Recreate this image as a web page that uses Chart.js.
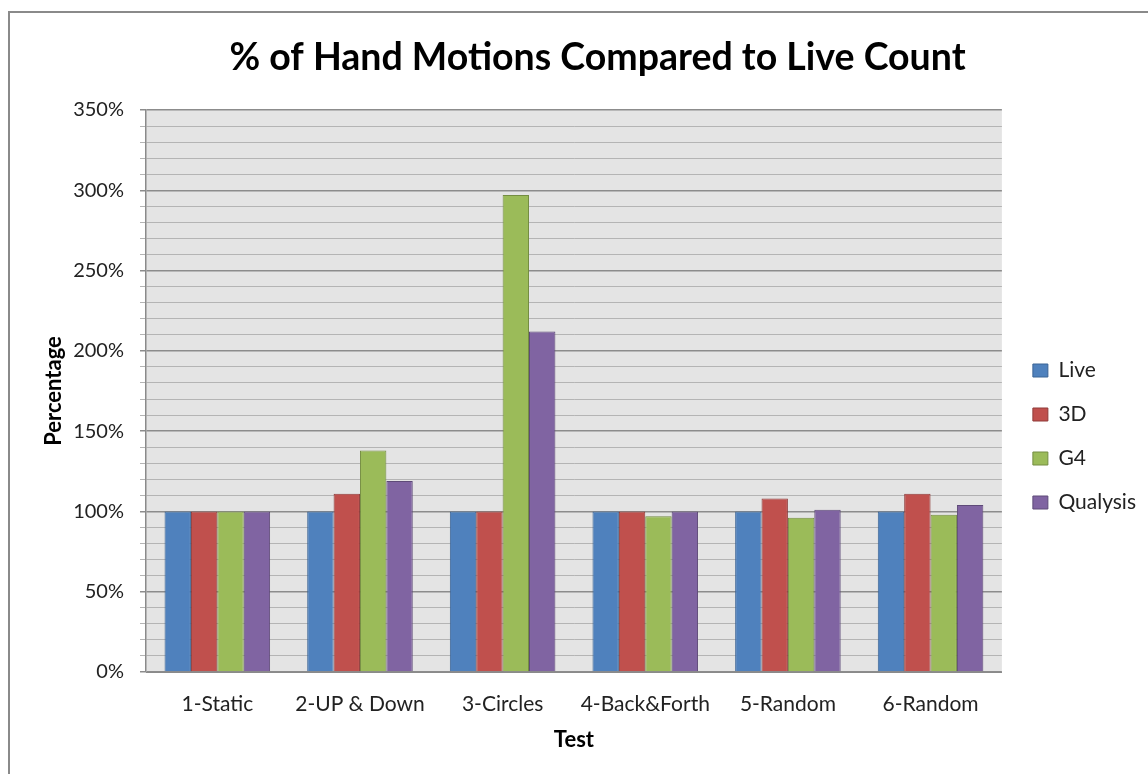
<!DOCTYPE html>
<html>
<head>
<meta charset="utf-8">
<title>% of Hand Motions Compared to Live Count</title>
<script src="https://cdn.jsdelivr.net/npm/chart.js@4/dist/chart.umd.min.js"></script>
<style>
  html, body { margin: 0; padding: 0; background: #ffffff; }
  #wrap { position: relative; width: 1148px; height: 774px; overflow: hidden; }
  #frame {
    position: absolute; left: 8px; top: 11px; width: 1200px; height: 800px;
    border-left: 2px solid #8a8a8a; border-top: 2px solid #8a8a8a; box-sizing: border-box;
  }
  canvas { position: absolute; left: 0; top: 0; }
</style>
</head>
<body>
<div id="wrap">
  <div id="frame"></div>
  <canvas id="chart" width="1148" height="774"></canvas>
</div>
<script>
// Test categories along the x axis
const tests = ['1-Static', '2-UP & Down', '3-Circles', '4-Back&Forth', '5-Random', '6-Random'];

// Hand-motion counts as a percentage of the live count
const live     = [100, 100, 100, 100, 100, 100];
const threeD   = [100, 111, 100, 100, 108, 111];
const g4       = [100, 138, 297, 97, 96, 98];
const qualysis = [100, 119, 212, 100, 101, 104];

// Y axis: 0–350 %, labelled every 50 %, minor grid every 10 %
const yMin = 0;
const yMax = 350;
const yStep = 10;
const yLabelEvery = 50;

const FONT = 'Lato, "Open Sans", "DejaVu Sans", sans-serif';

// Grey plot background behind the bars
const plotBackground = {
  id: 'plotBackground',
  beforeDraw(chart) {
    const { ctx, chartArea: a } = chart;
    ctx.save();
    ctx.fillStyle = '#e4e4e4';
    ctx.fillRect(a.left, a.top, a.right - a.left, a.bottom - a.top);
    ctx.restore();
  }
};

// Small offsets: title centred a little right, legend set a little away from the plot
const nudgeBoxes = {
  id: 'nudgeBoxes',
  afterLayout(chart) {
    const t = chart.titleBlock;
    if (t) { t.left += 10; t.right += 10; }
    const l = chart.legend;
    if (l) { l.left += 8; l.right += 8; }
  }
};

new Chart(document.getElementById('chart'), {
  type: 'bar',
  data: {
    labels: tests,
    datasets: [
      { label: 'Live',     data: live,     backgroundColor: '#4f81bd', borderColor: '#3b6496' },
      { label: '3D',       data: threeD,   backgroundColor: '#c0504d', borderColor: '#8f3b39' },
      { label: 'G4',       data: g4,       backgroundColor: '#9bbb59', borderColor: '#748d42' },
      { label: 'Qualysis', data: qualysis, backgroundColor: '#8064a2', borderColor: '#5e4a78' }
    ]
  },
  plugins: [plotBackground, nudgeBoxes],
  options: {
    responsive: false,
    animation: false,
    devicePixelRatio: 1,
    layout: { padding: { left: 37, right: 10, top: 0, bottom: 17 } },
    datasets: {
      bar: {
        borderWidth: 1,
        categoryPercentage: 0.74,
        barPercentage: 1.0
      }
    },
    plugins: {
      title: {
        display: true,
        text: '% of Hand Motions Compared to Live Count',
        color: '#000000',
        font: { family: FONT, size: 37.5, weight: 'bold' },
        padding: { top: 35, bottom: 30 }
      },
      legend: {
        position: 'right',
        title: {
          display: true,
          text: ' ',
          font: { family: FONT, size: 10 },
          padding: { top: 104, bottom: 0 }
        },
        labels: {
          color: '#222222',
          font: { family: FONT, size: 21 },
          boxWidth: 15,
          boxHeight: 13,
          padding: 23
        }
      },
      tooltip: { enabled: false }
    },
    scales: {
      x: {
        grid: { display: false },
        border: { display: true, color: '#8a8a8a', width: 1 },
        ticks: { color: '#222222', font: { family: FONT, size: 21 }, padding: 12, maxRotation: 0 },
        title: {
          display: true, text: 'Test', color: '#000000',
          font: { family: FONT, size: 22, weight: 'bold' }, padding: { top: 4, bottom: 4 }
        },
        afterFit(scale) { scale.height = 85; }
      },
      y: {
        min: yMin,
        max: yMax,
        ticks: {
          stepSize: yStep,
          autoSkip: false,
          color: '#222222',
          font: { family: FONT, size: 20 },
          padding: 16,
          callback: (v) => (v % yLabelEvery === 0 ? v + '%' : '')
        },
        grid: {
          color: (c) => (c.tick && c.tick.value % yLabelEvery === 0 ? '#8c8c8c' : '#b4b4b4'),
          lineWidth: (c) => (c.tick && c.tick.value % yLabelEvery === 0 ? 1.5 : 1),
          tickLength: 6,
          drawTicks: true
        },
        border: { display: true, color: '#8a8a8a', width: 1.5 },
        title: {
          display: true, text: 'Percentage', color: '#000000',
          font: { family: FONT, size: 22, weight: 'bold' }, padding: { top: 4, bottom: 4 }
        },
        afterFit(scale) { scale.width = 109; }
      }
    }
  }
});
</script>
</body>
</html>
